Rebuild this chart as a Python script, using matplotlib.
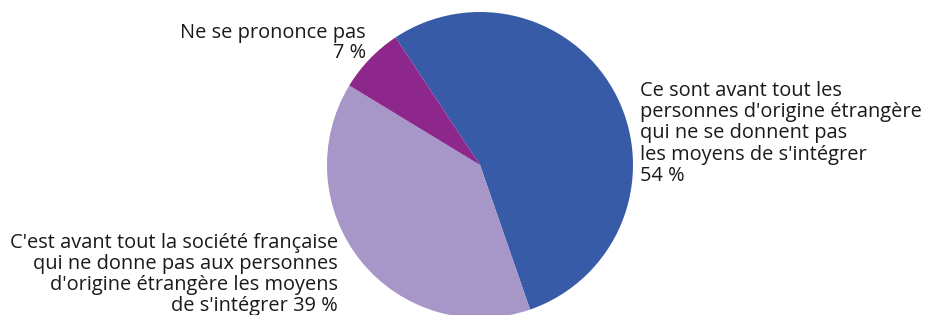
import matplotlib
matplotlib.use("Agg")
import matplotlib.pyplot as plt

labels = [
    "Ce sont avant tout les\npersonnes d'origine étrangère\nqui ne se donnent pas\nles moyens de s'intégrer\n54 %",
    "C'est avant tout la société française\nqui ne donne pas aux personnes\nd'origine étrangère les moyens\nde s'intégrer 39 %",
    "Ne se prononce pas\n7 %",
]
values = [54, 39, 7]
colors = ["#385BA8", "#A797C8", "#8D278B"]

W, H = 925, 315
fig = plt.figure(figsize=(W / 100, H / 100), dpi=100)
cx, cy, r = 480, 165, 153
ax = fig.add_axes([(cx - r) / W, 1 - (cy + r) / H, 2 * r / W, 2 * r / H])
ax.pie(values, colors=colors, startangle=123.5, counterclock=False,
       radius=1.0, wedgeprops=dict(linewidth=0))
ax.set_xlim(-1, 1)
ax.set_ylim(-1, 1)
ax.axis("off")

fs = 14.4
fam = ["Open Sans", "DejaVu Sans"]
col = "#1a1a1a"
fig.text(640 / W, 1 - 81 / H, labels[0], ha="left", va="top", fontsize=fs,
         family=fam, color=col, linespacing=1.08)
fig.text(338 / W, 1 - 233 / H, labels[1], ha="right", va="top", fontsize=fs,
         family=fam, color=col, linespacing=1.06, multialignment="right")
fig.text(366 / W, 1 - 23 / H, labels[2], ha="right", va="top", fontsize=fs,
         family=fam, color=col, linespacing=0.97, multialignment="right")

fig.savefig("out.png", dpi=100)
